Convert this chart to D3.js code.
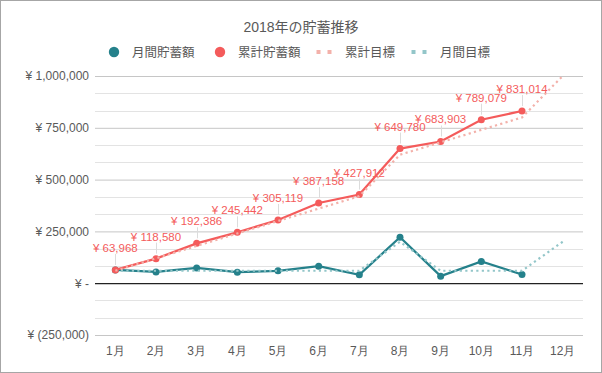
<!DOCTYPE html>
<html lang="ja">
<head>
<meta charset="UTF-8">
<title>2018年の貯蓄推移</title>
<script src="https://cdn.jsdelivr.net/npm/d3@7"></script>
<style>
  body { margin: 0; background: #fff; }
  svg { display: block; font-family: "Liberation Sans", "Noto Sans CJK JP", sans-serif; }
</style>
</head>
<body>
<svg id="chart" width="602" height="373"></svg>
<script>
// data
var months = ["1月", "2月", "3月", "4月", "5月", "6月", "7月", "8月", "9月", "10月", "11月", "12月"];
var monthly = [63968, 54612, 73806, 53056, 59677, 82039, 40754, 221868, 34123, 105176, 41935];
var cumulative = [63968, 118580, 192386, 245442, 305119, 387158, 427912, 649780, 683903, 789079, 831014];
var cumTarget = [60000, 120000, 180000, 240000, 300000, 360000, 420000, 620000, 680000, 740000, 800000, 1000000];
var monthTarget = [60000, 60000, 60000, 60000, 60000, 60000, 60000, 200000, 60000, 60000, 60000, 200000];
var yTicks = [-250000, 0, 250000, 500000, 750000, 1000000];

var teal = "#25818b", red = "#f45b5b", pink = "#f3b1aa", lteal = "#93c6c9", txt = "#595959";

var svg = d3.select("#chart");
svg.append("rect").attr("x", 0.5).attr("y", 0.5).attr("width", 601).attr("height", 372)
  .attr("fill", "#fff").attr("stroke", "#a6a6a6");

var x = d3.scaleBand().domain(months).range([95, 583]);
var y = d3.scaleLinear().domain([-250000, 1000000]).range([335, 76]);
var cx = function(d, i) { return x(months[i]) + x.bandwidth() / 2; };

// minor grid (every third of a major step)
var minor = d3.range(-250000, 1000001, 250000 / 3).filter(function(v) {
  return Math.abs(v / 250000 - Math.round(v / 250000)) > 0.01;
});
svg.append("g").selectAll("line").data(minor).enter().append("line")
  .attr("x1", 95).attr("x2", 583)
  .attr("y1", function(d) { return Math.round(y(d)) + 0.5; })
  .attr("y2", function(d) { return Math.round(y(d)) + 0.5; })
  .attr("stroke", "#e3e3e3");

// y axis with major grid
var fmt = function(v) {
  if (v === 0) return "¥ -";
  var s = d3.format(",")(Math.abs(v));
  return v < 0 ? "¥ (" + s + ")" : "¥ " + s;
};
var yAxis = svg.append("g").attr("transform", "translate(95,0)")
  .call(d3.axisLeft(y).tickValues(yTicks).tickFormat(fmt).tickSize(-488).tickPadding(6));
yAxis.select(".domain").remove();
yAxis.selectAll(".tick line").attr("stroke", function(d) { return d === 0 ? "#222" : "#c6c6c6"; })
  .attr("stroke-width", function(d) { return d === 0 ? 1.3 : 1; });
yAxis.selectAll(".tick text").attr("fill", txt).attr("font-size", 12);

// x axis
var xAxis = svg.append("g").attr("transform", "translate(0,335)")
  .call(d3.axisBottom(x).tickSize(0).tickPadding(11));
xAxis.select(".domain").remove();
xAxis.selectAll(".tick text").attr("fill", txt).attr("font-size", 12);

var line = d3.line().x(cx).y(function(d) { return y(d); });

// actual lines
svg.append("path").datum(monthly).attr("d", line).attr("fill", "none")
  .attr("stroke", teal).attr("stroke-width", 2.25);
svg.append("g").selectAll("circle").data(monthly).enter().append("circle")
  .attr("cx", cx).attr("cy", function(d) { return y(d); }).attr("r", 3.5).attr("fill", teal);

svg.append("path").datum(monthTarget).attr("d", line).attr("fill", "none")
  .attr("stroke", lteal).attr("stroke-width", 2.2).attr("stroke-dasharray", "2.2,3.3");

svg.append("path").datum(cumulative).attr("d", line).attr("fill", "none")
  .attr("stroke", red).attr("stroke-width", 2.25);
svg.append("g").selectAll("circle").data(cumulative).enter().append("circle")
  .attr("cx", cx).attr("cy", function(d) { return y(d); }).attr("r", 3.5).attr("fill", red);

svg.append("path").datum(cumTarget).attr("d", line).attr("fill", "none")
  .attr("stroke", pink).attr("stroke-width", 2.2).attr("stroke-dasharray", "2.2,3.3");

// data labels with leader lines
var lab = svg.append("g");
lab.selectAll("line").data(cumulative).enter().append("line")
  .attr("x1", function(d, i) { return Math.round(cx(d, i)) + 0.5; })
  .attr("x2", function(d, i) { return Math.round(cx(d, i)) + 0.5; })
  .attr("y1", function(d) { return y(d) - 16; }).attr("y2", function(d) { return y(d) - 5; })
  .attr("stroke", "#dcdcdc");
lab.selectAll("text").data(cumulative).enter().append("text")
  .attr("x", cx).attr("y", function(d) { return y(d) - 18; })
  .attr("text-anchor", "middle").attr("font-size", 11.5).attr("fill", red)
  .text(function(d) { return "¥ " + d3.format(",")(d); });

// title
svg.append("text").attr("x", 301).attr("y", 32).attr("text-anchor", "middle")
  .attr("font-size", 14).attr("fill", txt).text("2018年の貯蓄推移");

// legend
var legend = [
  { name: "月間貯蓄額", color: teal, x: 114, type: "dot" },
  { name: "累計貯蓄額", color: red, x: 220, type: "dot" },
  { name: "累計目標", color: pink, x: 324, type: "dash" },
  { name: "月間目標", color: lteal, x: 419, type: "dash" }
];
var lg = svg.append("g").selectAll("g").data(legend).enter().append("g")
  .attr("transform", function(d) { return "translate(" + d.x + ",52)"; });
lg.filter(function(d) { return d.type === "dot"; }).append("circle")
  .attr("r", 5.2).attr("fill", function(d) { return d.color; });
lg.filter(function(d) { return d.type === "dash"; }).selectAll("rect")
  .data(function(d) { return [d, d]; }).enter().append("rect")
  .attr("x", function(d, i) { return i * 11 - 7.5; }).attr("y", -2).attr("width", 4).attr("height", 4)
  .attr("fill", function(d) { return d.color; });
lg.append("text").attr("x", function(d) { return d.type === "dot" ? 18 : 21; }).attr("y", 4.5)
  .attr("font-size", 12.5).attr("fill", txt).text(function(d) { return d.name; });
</script>
</body>
</html>
